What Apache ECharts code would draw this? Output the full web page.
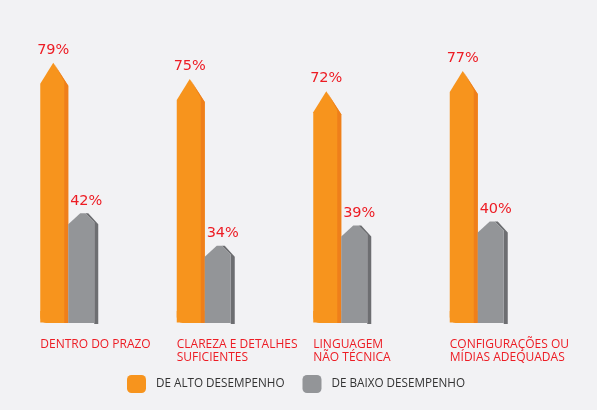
<!DOCTYPE html>
<html>
<head>
<meta charset="utf-8">
<script src="https://cdn.jsdelivr.net/npm/echarts@6/dist/echarts.min.js"></script>
<style>
html,body{margin:0;padding:0;background:#f2f2f4;}
#c{width:597px;height:410px;}
</style>
</head>
<body>
<div id="c"></div>
<script>
const categories = ['DENTRO DO PRAZO', 'CLAREZA E DETALHES\nSUFICIENTES', 'LINGUAGEM\nNÃO TÉCNICA', 'CONFIGURAÇÕES OU\nMÍDIAS ADEQUADAS'];
const seriesNames = ['DE ALTO DESEMPENHO', 'DE BAIXO DESEMPENHO'];
const altoValues = [79, 75, 72, 77];
const baixoValues = [42, 34, 39, 40];
const AXIS_MIN = 15;

const ORANGE = '#f7941d', ORANGE_DARK = '#ef7f1a';
const GRAY = '#939598', GRAY_DARK = '#6d6e71';
const RED = '#ed1c24';

function renderAlto(params, api) {
  const p = api.coord([api.value(0), api.value(1)]);
  const base = api.coord([api.value(0), AXIS_MIN])[1];
  const cx = p[0], top = p[1];
  const xL = cx - 28, xR = cx, tipX = xL + 13;
  const children = [
    { type: 'polygon', shape: { points: [[xL, top + 21], [tipX, top], [xR, top + 23], [xR, base - 0.5], [xL, base - 0.5]] }, style: { fill: ORANGE } },
    { type: 'rect', shape: { x: xL, y: base - 12, width: xR - xL, height: 12, r: [0, 0, 0, 6] }, style: { fill: ORANGE } },
    { type: 'polygon', shape: { points: [[tipX + 1, top + 1], [xR, top + 23], [xR, base], [xR - 4, base], [xR - 4, top + 19]] }, style: { fill: ORANGE_DARK } },
    { type: 'text', style: { text: api.value(1) + '%', x: tipX, y: top - 13, align: 'center', verticalAlign: 'middle', fill: RED, fontSize: 14.5, fontFamily: 'DejaVu Sans' } },
    { type: 'text', style: { text: categories[params.dataIndex], x: xL, y: base + 15, align: 'left', verticalAlign: 'top', fill: RED, fontSize: 12, lineHeight: 13, fontFamily: 'Open Sans' } }
  ];
  return { type: 'group', children };
}

function renderBaixo(params, api) {
  const p = api.coord([api.value(0), api.value(1)]);
  const base = api.coord([api.value(0), AXIS_MIN])[1];
  const xL = p[0], top = p[1];
  const children = [
    { type: 'polygon', shape: { points: [[xL + 17, top], [xL + 20, top], [xL + 30, top + 11], [xL + 30, base + 1], [xL + 26, base + 1], [xL + 26, top + 9]] }, style: { fill: GRAY_DARK } },
    { type: 'polygon', shape: { points: [[xL, base], [xL, top + 11], [xL + 12, top], [xL + 17, top], [xL + 26, top + 9], [xL + 26, base]] }, style: { fill: GRAY } },
    { type: 'text', style: { text: api.value(1) + '%', x: xL + 18, y: top - 12.5, align: 'center', verticalAlign: 'middle', fill: RED, fontSize: 14.5, fontFamily: 'DejaVu Sans' } }
  ];
  return { type: 'group', children };
}

const chart = echarts.init(document.getElementById('c'), null, { renderer: 'canvas' });
chart.setOption({
  backgroundColor: '#f2f2f4',
  animation: false,
  grid: { left: -2, right: 51, top: 10, bottom: 87 },
  xAxis: { type: 'category', data: categories, show: false },
  yAxis: { type: 'value', min: AXIS_MIN, max: 92, show: false },
  legend: {
    data: seriesNames,
    left: 127, top: 375, padding: 0,
    icon: 'roundRect', itemWidth: 19, itemHeight: 18, itemGap: 18,
    textStyle: { color: '#333', fontSize: 11.7, fontFamily: 'Open Sans', padding: [0, 0, 0, 5] }
  },
  series: [
    { name: seriesNames[0], type: 'custom', renderItem: renderAlto, itemStyle: { color: ORANGE }, data: altoValues.map((v, i) => [i, v]), encode: { x: 0, y: 1 } },
    { name: seriesNames[1], type: 'custom', renderItem: renderBaixo, itemStyle: { color: GRAY }, data: baixoValues.map((v, i) => [i, v]), encode: { x: 0, y: 1 } }
  ]
});
</script>
</body>
</html>
